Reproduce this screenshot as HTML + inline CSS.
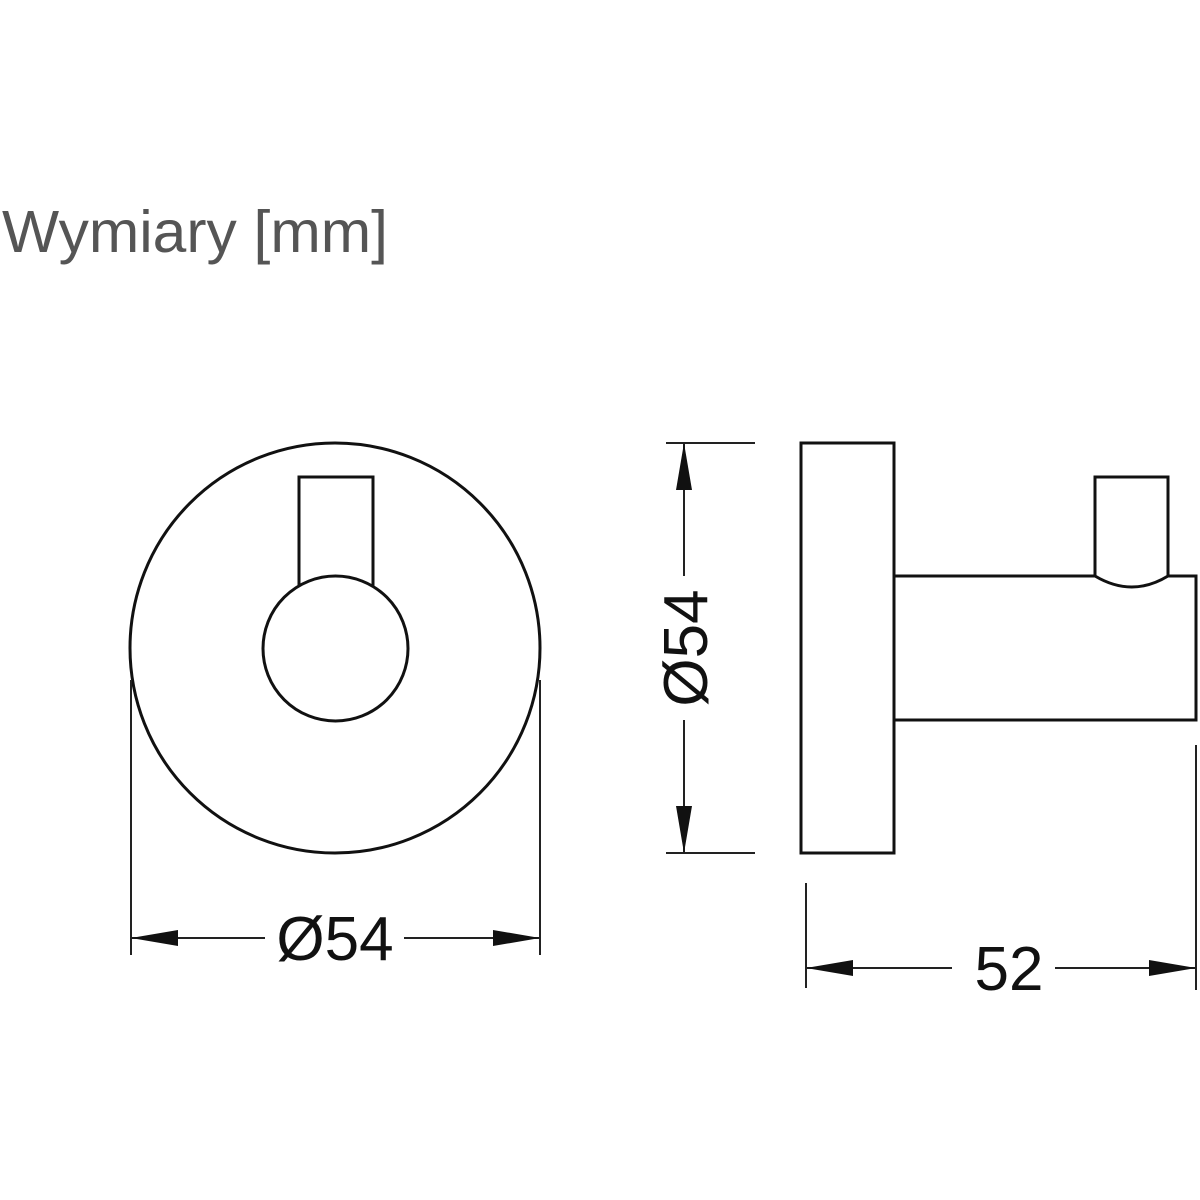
<!DOCTYPE html>
<html><head><meta charset="utf-8"><style>html,body{margin:0;padding:0;background:#fff}svg{display:block}</style></head>
<body>
<svg width="1200" height="1200" viewBox="0 0 1200 1200" xmlns="http://www.w3.org/2000/svg">
<rect width="1200" height="1200" fill="#fff"/>
<text x="2" y="252" font-family="Liberation Sans, sans-serif" font-size="59" fill="#555" textLength="386" lengthAdjust="spacingAndGlyphs">Wymiary [mm]</text>
<g fill="none" stroke="#111" stroke-width="3">
  <circle cx="335" cy="648" r="205"/>
  <path d="M299 586 L299 477 L373 477 L373 586"/>
  <circle cx="335.5" cy="648.5" r="72.5"/>
  <rect x="801" y="443" width="93" height="410"/>
  <path d="M894 576 L1095 576 M1168 576 L1196 576 L1196 720 L894 720"/>
  <path d="M1095 576 L1095 477 L1168 477 L1168 576"/>
  <path d="M1095 576 Q1132 598 1168 576"/>
</g>
<g stroke="#222" stroke-width="2" fill="none">
  <line x1="131" y1="680" x2="131" y2="955"/>
  <line x1="540" y1="680" x2="540" y2="955"/>
  <line x1="131" y1="938" x2="265" y2="938"/>
  <line x1="404" y1="938" x2="540" y2="938"/>
  <line x1="666" y1="443" x2="755" y2="443"/>
  <line x1="666" y1="853" x2="755" y2="853"/>
  <line x1="684" y1="443" x2="684" y2="576"/>
  <line x1="684" y1="720" x2="684" y2="853"/>
  <line x1="806" y1="883" x2="806" y2="988"/>
  <line x1="1196" y1="745" x2="1196" y2="990"/>
  <line x1="806" y1="968" x2="952" y2="968"/>
  <line x1="1055" y1="968" x2="1196" y2="968"/>
</g>
<g fill="#111">
  <polygon points="131,938 178,930 178,946"/>
  <polygon points="540,938 493,930 493,946"/>
  <polygon points="684,443 676,490 692,490"/>
  <polygon points="684,853 676,806 692,806"/>
  <polygon points="806,968 853,960 853,976"/>
  <polygon points="1196,968 1149,960 1149,976"/>
</g>
<g font-family="Liberation Sans, sans-serif" font-size="62" fill="#111">
  <text x="335" y="960" text-anchor="middle">Ø54</text>
  <text x="1009" y="990" text-anchor="middle">52</text>
  <text transform="translate(707,648) rotate(-90)" text-anchor="middle">Ø54</text>
</g>
</svg>
</body></html>
